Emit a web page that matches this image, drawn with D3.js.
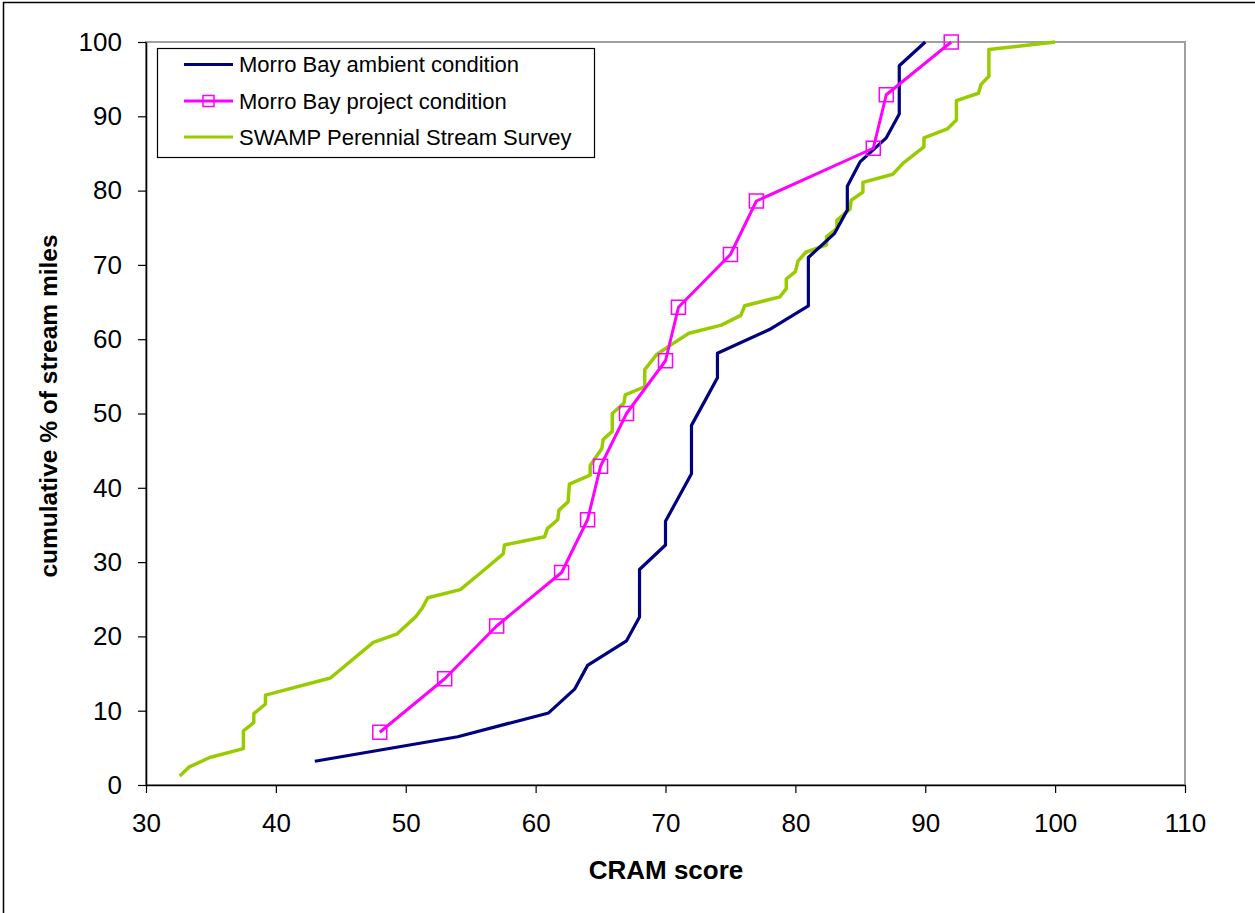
<!DOCTYPE html>
<html>
<head>
<meta charset="utf-8">
<script src="https://cdn.jsdelivr.net/npm/d3@7"></script>
<style>
  html, body { margin: 0; padding: 0; background: #fff; }
  svg { display: block; }
  text { font-family: "Liberation Sans", Arial, sans-serif; fill: #000; }
</style>
</head>
<body>
<svg id="chart" width="1255" height="913"></svg>
<script>
// CRAM scores vs cumulative percentage of stream miles
const ambientScore = [43, 54, 61, 63, 64, 67, 68, 68, 68, 70, 70, 71, 72, 72, 72, 73, 74, 74, 78, 81, 81, 81, 83, 84, 84, 85, 87, 88, 88, 88, 90];
const ambientPct   = [3.2, 6.5, 9.7, 12.9, 16.1, 19.4, 22.6, 25.8, 29.0, 32.3, 35.5, 38.7, 41.9, 45.2, 48.4, 51.6, 54.8, 58.1, 61.3, 64.5, 67.7, 71.0, 74.2, 77.4, 80.6, 83.9, 87.1, 90.3, 93.5, 96.8, 100];

const projectScore = [48, 53, 57, 62, 64, 65, 67, 70, 71, 75, 77, 86, 87, 92];
const projectPct   = [7.1, 14.3, 21.4, 28.6, 35.7, 42.9, 50.0, 57.1, 64.3, 71.4, 78.6, 85.7, 92.9, 100];

const swampScore = [32.6, 33.3, 34.9, 37.5, 37.5, 38.3, 38.3, 39.2, 39.2, 44.2, 47.5, 49.3, 50.8, 51.3, 51.7, 54.2, 55.8, 57.5, 57.6, 60.7, 60.9, 61.7, 61.8, 62.5, 62.6, 64.2, 64.2, 65.1, 65.2, 65.9, 65.9, 66.8, 66.9, 68.4, 68.4, 69.3, 70.3, 71.8, 74.3, 75.8, 76.1, 78.8, 79.3, 79.3, 80.0, 80.2, 80.8, 82.4, 82.4, 83.2, 83.2, 84.2, 84.3, 85.2, 85.2, 87.5, 88.3, 89.9, 89.9, 91.7, 92.4, 92.4, 94.1, 94.3, 94.9, 94.9, 100];
const swampPct   = [1.2, 2.4, 3.7, 4.9, 7.3, 8.4, 9.6, 10.9, 12.1, 14.4, 19.2, 20.3, 22.7, 23.9, 25.2, 26.3, 28.6, 31.1, 32.3, 33.4, 34.5, 35.7, 37.0, 38.1, 40.5, 41.7, 43.0, 45.3, 46.5, 47.6, 50.0, 51.4, 52.5, 53.6, 55.9, 57.9, 59.1, 60.8, 61.9, 63.2, 64.5, 65.7, 66.8, 68.1, 69.1, 70.5, 71.7, 72.7, 73.8, 74.9, 76.0, 77.5, 78.7, 79.8, 81.1, 82.2, 83.7, 85.9, 87.1, 88.3, 89.5, 92.1, 93.1, 94.3, 95.4, 99.0, 100];

const xTicks = [30, 40, 50, 60, 70, 80, 90, 100, 110];
const yTicks = [0, 10, 20, 30, 40, 50, 60, 70, 80, 90, 100];

const seriesNames = ["Morro Bay ambient condition", "Morro Bay project condition", "SWAMP Perennial Stream Survey"];
const seriesColors = ["#000080", "#FF00FF", "#99CC00"];

const svg = d3.select("#chart");

// outer frame
svg.append("rect")
  .attr("x", 3.5).attr("y", 2.5)
  .attr("width", 1260).attr("height", 920)
  .attr("fill", "#fff").attr("stroke", "#000").attr("stroke-width", 1.5);

const x = d3.scaleLinear().domain([30, 110]).range([146, 1185]);
const y = d3.scaleLinear().domain([0, 100]).range([785, 42]);

// plot area border
svg.append("rect")
  .attr("x", x(30)).attr("y", y(100))
  .attr("width", x(110) - x(30)).attr("height", y(0) - y(100))
  .attr("fill", "none").attr("stroke", "#a0a0a0").attr("stroke-width", 2);

// axes
const yAxis = svg.append("g")
  .attr("transform", `translate(${x(30)},0)`)
  .call(d3.axisLeft(y).tickValues(yTicks).tickSize(8).tickSizeOuter(0).tickPadding(16));
const xAxis = svg.append("g")
  .attr("transform", `translate(0,${y(0)})`)
  .call(d3.axisBottom(x).tickValues(xTicks).tickSize(8).tickSizeOuter(0).tickPadding(21));

[yAxis, xAxis].forEach(g => {
  g.select(".domain").attr("stroke", "#000").attr("stroke-width", 1.6);
  g.selectAll(".tick line").attr("stroke", "#000").attr("stroke-width", 1.2);
  g.selectAll(".tick text")
    .style("font-family", '"Liberation Sans", Arial, sans-serif')
    .style("font-size", "26px").attr("fill", "#000");
});

// axis titles
svg.append("text")
  .attr("x", 666).attr("y", 879)
  .attr("text-anchor", "middle")
  .style("font-size", "26px").style("font-weight", "bold")
  .text("CRAM score");

svg.append("text")
  .attr("transform", "translate(57,406) rotate(-90)")
  .attr("text-anchor", "middle")
  .style("font-size", "24.5px").style("font-weight", "bold")
  .text("cumulative % of stream miles");

// series lines
const line = d3.line().x(d => x(d[0])).y(d => y(d[1]));
const ambient = d3.zip(ambientScore, ambientPct);
const project = d3.zip(projectScore, projectPct);
const swamp = d3.zip(swampScore, swampPct);

svg.append("path").datum(swamp)
  .attr("d", line).attr("fill", "none")
  .attr("stroke", seriesColors[2]).attr("stroke-width", 3.5).attr("stroke-linejoin", "round");

svg.append("path").datum(ambient)
  .attr("d", line).attr("fill", "none")
  .attr("stroke", seriesColors[0]).attr("stroke-width", 3.2).attr("stroke-linejoin", "round");

svg.append("path").datum(project)
  .attr("d", line).attr("fill", "none")
  .attr("stroke", seriesColors[1]).attr("stroke-width", 3).attr("stroke-linejoin", "round");

svg.append("g").selectAll("rect")
  .data(project).join("rect")
  .attr("x", d => x(d[0]) - 7).attr("y", d => y(d[1]) - 7)
  .attr("width", 14).attr("height", 14)
  .attr("fill", "none").attr("stroke", seriesColors[1]).attr("stroke-width", 1.5);

// legend
const legend = svg.append("g");
legend.append("rect")
  .attr("x", 157.5).attr("y", 48.5).attr("width", 437).attr("height", 109)
  .attr("fill", "#fff").attr("stroke", "#000").attr("stroke-width", 1.2);

const rowY = [64.5, 101, 137];
seriesNames.forEach((name, i) => {
  legend.append("line")
    .attr("x1", 184).attr("x2", 233).attr("y1", rowY[i]).attr("y2", rowY[i])
    .attr("stroke", seriesColors[i]).attr("stroke-width", 3);
  if (i === 1) {
    legend.append("rect")
      .attr("x", 203).attr("y", rowY[i] - 5.5).attr("width", 11).attr("height", 11)
      .attr("fill", "none").attr("stroke", seriesColors[i]).attr("stroke-width", 1.5);
  }
  legend.append("text")
    .attr("x", 239).attr("y", rowY[i])
    .attr("dominant-baseline", "central")
    .style("font-size", "22px")
    .text(name);
});
</script>
</body>
</html>
